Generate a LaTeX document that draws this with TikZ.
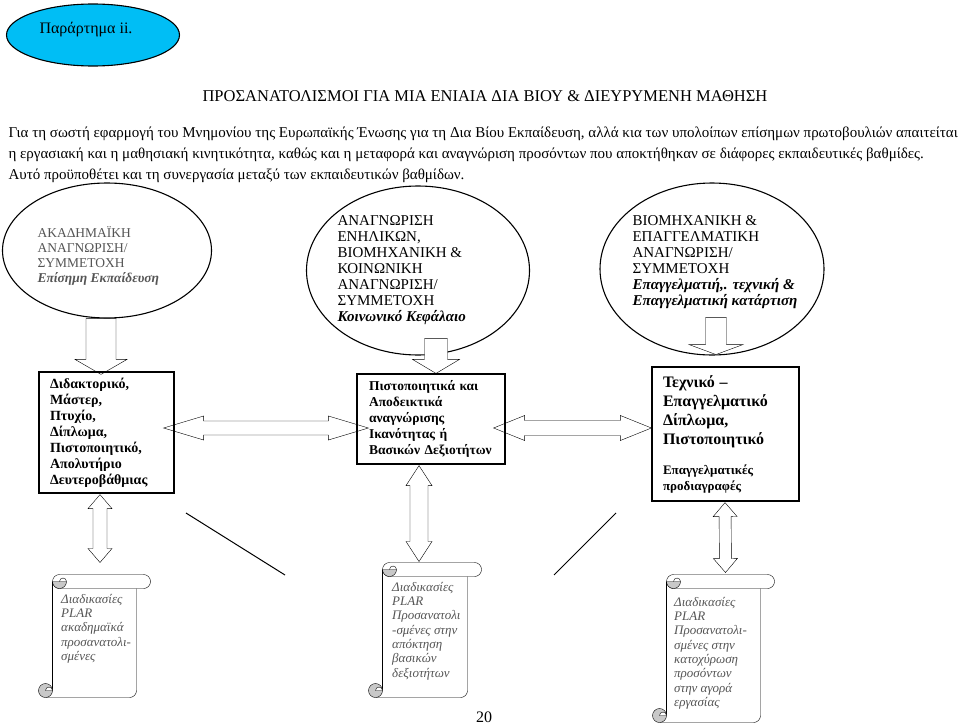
\documentclass[tikz,border=0pt]{standalone}
\usepackage{fontspec}
\setmainfont{Liberation Serif}
\usepackage{xcolor}
\usepackage{tikz}
\usetikzlibrary{shapes.geometric}
\usetikzlibrary{calc}

\definecolor{annexblue}{RGB}{0,190,245}
\definecolor{curlgray}{RGB}{200,200,200}
\definecolor{softtext}{RGB}{85,85,85}

\pgfdeclarelayer{front}
\pgfsetlayers{main,front}

% Rolled sheet drawn round a named node.
\newcommand{\scrollframe}[1]{%
  \draw[fill=white] ([xshift=7pt]#1.north west) -- ([xshift=7pt]#1.north east) arc (-90:90:7)
    -- ([shift={(7,14)}]#1.north west) arc (90:270:7) -- cycle;
  \draw[fill=curlgray] ([shift={(0,7)}]#1.north west) arc (180:0:7) -- cycle;
  \draw ([shift={(14,7)}]#1.north west) arc (0:-180:3.5);
  \draw ([shift={(0,7)}]#1.north west) -- ([shift={(0,-7)}]#1.south west);
  \draw[rounded corners=7pt] ([shift={(0,14)}]#1.north east) -- (#1.south east) -- ([xshift=-7pt]#1.south west);
  \draw[fill=curlgray] ([shift={(-7,-7)}]#1.south west) circle (7);
  \draw[fill=white] ([shift={(-7,-7)}]#1.south west) arc (180:360:3.5) -- cycle;
}

\begin{document}
\begin{tikzpicture}[x=1pt, y=-1pt, line width=1.1pt,
        oval/.style={ellipse, draw, inner sep=0pt},
        body/.style={inner sep=0pt, font=\fontsize{15}{21}\selectfont},
        ovaltext/.style={anchor=north west, align=left, inner sep=0pt, font=\fontsize{15}{16}\selectfont},
        box/.style={draw, line width=1.2pt, align=left, inner ysep=0pt, font=\bfseries\fontsize{14}{16}\selectfont},
        scroll/.style={inner sep=0pt, line width=1pt},
        scrolltext/.style={anchor=north west, align=left, inner sep=0pt, text=softtext, font=\itshape\fontsize{13}{14.3}\selectfont},
        fatarrow/.style args={#1/#2/#3}{draw, fill=white, to path={
            ($(\tikztotarget)!#3!(\tikztostart)$) coordinate (hb)
            ($(\tikztostart)!#1!90:(\tikztotarget)$)
            -- ($(hb)!#1!90:(\tikztotarget)$) -- ($(hb)!#2!90:(\tikztotarget)$)
            -- (\tikztotarget)
            -- ($(hb)!#2!-90:(\tikztotarget)$) -- ($(hb)!#1!-90:(\tikztotarget)$)
            -- ($(\tikztostart)!#1!-90:(\tikztotarget)$) -- cycle}},
        dfatarrow/.style args={#1/#2/#3}{draw, fill=white, to path={
            ($(\tikztostart)!#3!(\tikztotarget)$) coordinate (ha)
            ($(\tikztotarget)!#3!(\tikztostart)$) coordinate (hb)
            (\tikztostart) -- ($(ha)!#2!90:(\tikztotarget)$) -- ($(ha)!#1!90:(\tikztotarget)$)
            -- ($(hb)!#1!90:(\tikztotarget)$) -- ($(hb)!#2!90:(\tikztotarget)$)
            -- (\tikztotarget)
            -- ($(hb)!#2!-90:(\tikztotarget)$) -- ($(hb)!#1!-90:(\tikztotarget)$)
            -- ($(ha)!#1!-90:(\tikztotarget)$) -- ($(ha)!#2!-90:(\tikztotarget)$)
            -- cycle}}]
        \useasboundingbox (0,0) rectangle (960,725);

        % Heading.
        \draw (93,35) node[oval, fill=annexblue, minimum width=173pt, minimum height=62pt] (e0) {}
            (86,30) node[body, font=\fontsize{16}{19}\selectfont] (e0t) {Παράρτημα ii.}
            (485,96) node[body, font=\fontsize{16.5}{19}\selectfont] (title) {ΠΡΟΣΑΝΑΤΟΛΙΣΜΟΙ ΓΙΑ ΜΙΑ ΕΝΙΑΙΑ ΔΙΑ ΒΙΟΥ \& ΔΙΕΥΡΥΜΕΝΗ ΜΑΘΗΣΗ}
            (8,126) node[body, anchor=north west, align=left] (intro) {Για τη σωστή εφαρμογή του Μνημονίου της Ευρωπαϊκής Ένωσης για τη Δια Βίου Εκπαίδευση, αλλά κια των υπολοίπων επίσημων πρωτοβουλιών απαιτείται\\
                η εργασιακή και η μαθησιακή κινητικότητα, καθώς και η μεταφορά και αναγνώριση προσόντων που αποκτήθηκαν σε διάφορες εκπαιδευτικές βαθμίδες.\\
                Αυτό προϋποθέτει και τη συνεργασία μεταξύ των εκπαιδευτικών βαθμίδων.};

        % Three kinds of recognition.
        \draw (107,250.5) node[oval, minimum width=209pt, minimum height=135pt] (e1) {}
            (418,270.5) node[oval, minimum width=223pt, minimum height=169pt] (e2) {}
            (712,269) node[oval, minimum width=224pt, minimum height=172pt] (e3) {}
            (37,226) node[ovaltext, text=softtext, font=\fontsize{13.5}{15}\selectfont] (t1) {ΑΚΑΔΗΜΑΪΚΗ\\ΑΝΑΓΝΩΡΙΣΗ/\\ΣΥΜΜΕΤΟΧΗ\\\textbf{\textit{Επίσημη Εκπαίδευση}}}
            (337,215) node[ovaltext] (t2) {ΑΝΑΓΝΩΡΙΣΗ\\ΕΝΗΛΙΚΩΝ,\\ΒΙΟΜΗΧΑΝΙΚΗ \&\\ΚΟΙΝΩΝΙΚΗ\\ΑΝΑΓΝΩΡΙΣΗ/\\ΣΥΜΜΕΤΟΧΗ\\\textbf{\textit{Κοινωνικό Κεφάλαιο}}}
            (632,215) node[ovaltext] (t3) {ΒΙΟΜΗΧΑΝΙΚΗ \&\\ΕΠΑΓΓΕΛΜΑΤΙΚΗ\\ΑΝΑΓΝΩΡΙΣΗ/\\ΣΥΜΜΕΤΟΧΗ\\\textbf{\textit{Επαγγελματιή,. τεχνική \&}}\\\textbf{\textit{Επαγγελματική κατάρτιση}}};

        % Titles.
        \begin{pgfonlayer}{front}
        \draw (106.5,432.5) node[box, minimum width=135pt, minimum height=121pt, inner xsep=11pt, text width=113pt] (b1) {Διδακτορικό,\\Μάστερ,\\Πτυχίο,\\Δίπλωμα,\\Πιστοποιητικό,\\Απολυτήριο\\Δευτεροβάθμιας}
            (431,419) node[box, minimum width=148pt, minimum height=90pt, inner xsep=12pt, text width=124pt, font=\bfseries\fontsize{13.5}{16}\selectfont] (b2) {\mbox{Πιστοποιητικά και}\\Αποδεικτικά\\αναγνώρισης\\Ικανότητας ή\\\mbox{Βασικών Δεξιοτήτων}}
            (725.5,434) node[box, minimum width=147pt, minimum height=134pt, inner xsep=11pt, text width=125pt] (b3) {{\fontsize{16}{19}\selectfont Τεχνικό –\\Επαγγελματικό\\Δίπλωμα,\\Πιστοποιητικό\par}\vspace{14pt}{\fontsize{13}{16}\selectfont Επαγγελματικές\\προδιαγραφές\par}};
        \end{pgfonlayer}

        % PLAR procedures.
        \draw (94.5,636) node[scroll, minimum width=83pt, minimum height=122pt] (s1) {}
            (425,630) node[scroll, minimum width=84pt, minimum height=134pt] (s2) {}
            (713.5,648.5) node[scroll, minimum width=93pt, minimum height=147pt] (s3) {};
        \scrollframe{s1}
        \scrollframe{s2}
        \scrollframe{s3}
        \draw (61,594) node[scrolltext] (s1t) {Διαδικασίες\\PLAR\\ακαδημαϊκά\\προσανατολι-\\σμένες}
            (392,582) node[scrolltext] (s2t) {Διαδικασίες\\PLAR\\Προσανατολι\\-σμένες στην\\απόκτηση\\βασικών\\δεξιοτήτων}
            (674,597) node[scrolltext] (s3t) {Διαδικασίες\\PLAR\\Προσανατολι-\\σμένες στην\\κατοχύρωση\\προσόντων\\στην αγορά\\εργασίας};

        % Block arrows.
        \draw[fatarrow=15pt/26pt/15pt] ([xshift=-6pt]e1.south) to ([shift={(-5.5,3)}]b1.north);
        \draw[fatarrow=11.5pt/23.5pt/14pt] ([shift={(18,-17)}]e2.south) to ([xshift=5pt]b2.north);
        \draw[fatarrow=10.5pt/27pt/10pt] ([shift={(4,-38)}]e3.south) to ([shift={(4,-1)}]e3.south);
        \draw[dfatarrow=7pt/12pt/40pt] ([shift={(-11,-4.5)}]b1.east) to ([shift={(12,9)}]b2.west);
        \draw[dfatarrow=7.5pt/12.5pt/31pt] ([shift={(-12,9)}]b2.east) to ([shift={(0,-6)}]b3.west);
        \draw[dfatarrow=7pt/12pt/14pt] ([shift={(-6.5,1)}]b1.south) to ([shift={(5.5,-12)}]s1.north);
        \draw[dfatarrow=9pt/13pt/20pt] ([shift={(-12,1)}]b2.south) to ([shift={(-6,-1)}]s2.north);
        \draw[dfatarrow=6pt/12pt/14pt] ([shift={(-0.5,1)}]b3.south) to ([shift={(12,-2)}]s3.north);

        % Diagonal strokes.
        \coordinate (d1) at (186,513);
        \coordinate (d2) at (285,575);
        \coordinate (d3) at (616,513);
        \coordinate (d4) at (554,575);
        \draw[line width=1pt] (d1) -- (d2) (d3) -- (d4);

        % Page number.
        \draw (484,717) node[body, font=\fontsize{16}{19}\selectfont] (page) {20};
    \end{tikzpicture}
\end{document}
